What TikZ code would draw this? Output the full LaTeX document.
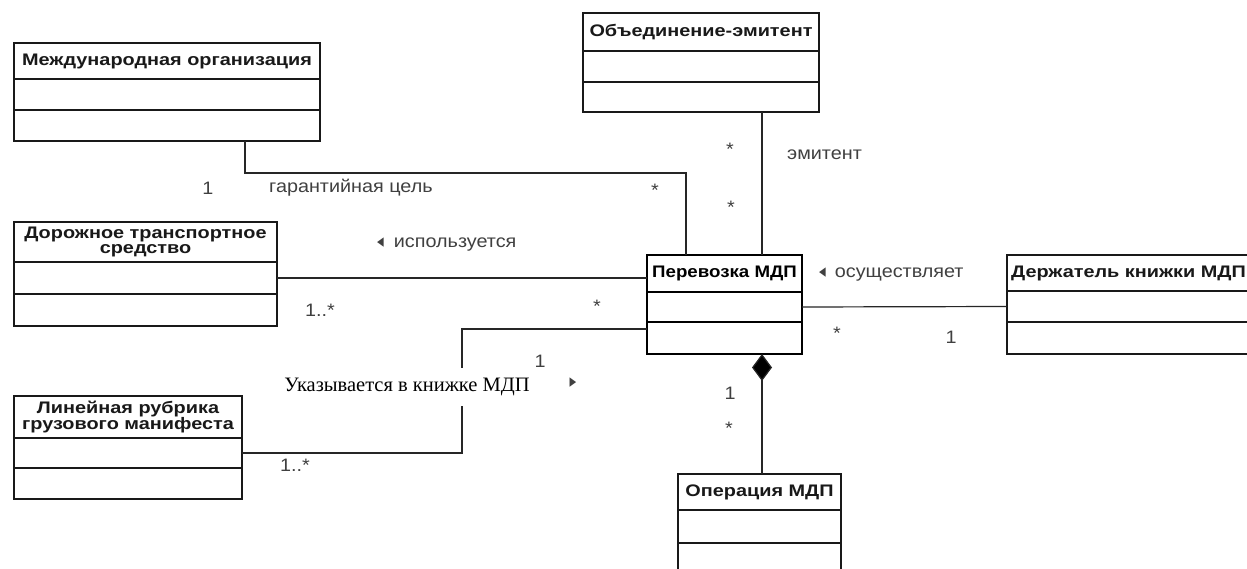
\documentclass[tikz,border=0pt]{standalone}
\usepackage{fontspec}
\setmainfont{Liberation Sans}
\newfontfamily\classfont[FakeStretch=1.19]{Liberation Sans}
\newfontfamily\transportfont[FakeStretch=1.12]{Liberation Sans}
\newfontfamily\labelfont[FakeStretch=1.1]{Liberation Sans}
\newfontfamily\labelserif{Liberation Serif}
\newfontfamily\arrowfont{DejaVu Sans}
\usetikzlibrary{positioning,arrows.meta}
\newcommand{\readleft}{\scalebox{0.7}[1]{\arrowfont\fontsize{19}{19}\selectfont◂}}
\newcommand{\readright}{\scalebox{0.7}[1]{\arrowfont\fontsize{19}{19}\selectfont▸}}

\begin{document}
\begin{tikzpicture}[x=1pt,y=-1pt,
	classhead/.style={draw=black!90,rectangle,outer sep=0pt,inner sep=1pt,align=center,anchor=north west,line width=1.5pt,text=black!90,font=\classfont\bfseries\fontsize{16.7}{15}\selectfont},
	classpart/.style 2 args={draw=black!90,rectangle,outer sep=0pt,inner sep=0pt,line width=1.5pt,minimum width=#1,minimum height=#2},
	assoc/.style={draw=black!85,line width=1.2pt},
	composition/.style={assoc,-{Diamond[length=27pt,width=20pt,fill=black]}},
	role/.style={text=black!75,font=\labelfont\fontsize{18}{20}\selectfont,inner sep=0pt},
	mult/.style={text=black!75,font=\labelfont\fontsize{18}{20}\selectfont,inner sep=0pt}]
	\useasboundingbox[fill=white] (0,0) rectangle (1247,569);

	\node[classhead,minimum width=306,minimum height=36] (intorg) at (14,43) {Международная организация};
	\node[classpart={306}{31},below=0pt of intorg] (intorgattr) {};
	\node[classpart={306}{31},below=0pt of intorgattr] (intorgops) {};

	\node[classhead,minimum width=236,minimum height=38] (issuer) at (583,13) {Объединение-эмитент};
	\node[classpart={236}{31},below=0pt of issuer] (issuerattr) {};
	\node[classpart={236}{30},below=0pt of issuerattr] (issuerops) {};

	\node[classhead,minimum width=263,minimum height=40] (road) at (14,222) {Дорожное транспортное\\средство};
	\node[classpart={263}{32},below=0pt of road] (roadattr) {};
	\node[classpart={263}{32},below=0pt of roadattr] (roadops) {};

	\node[classhead,minimum width=228,minimum height=42] (manifest) at (14,396) {Линейная рубрика\\грузового манифеста};
	\node[classpart={228}{30},below=0pt of manifest] (manifestattr) {};
	\node[classpart={228}{31},below=0pt of manifestattr] (manifestops) {};

	\node[classhead,draw=black,line width=2.2pt,text=black,font=\transportfont\bfseries\fontsize{16.7}{15}\selectfont,minimum width=155,minimum height=37] (transport) at (647,255) {Перевозка МДП};
	\node[classpart={155}{30},draw=black,line width=2.2pt,below=0pt of transport] (transportattr) {};
	\node[classpart={155}{32},draw=black,line width=2.2pt,below=0pt of transportattr] (transportops) {};

	\node[classhead,minimum width=243,minimum height=36] (holder) at (1007,255) {Держатель книжки МДП};
	\node[classpart={243}{31},below=0pt of holder] (holderattr) {};
	\node[classpart={243}{32},below=0pt of holderattr] (holderops) {};

	\node[classhead,minimum width=163,minimum height=36] (operation) at (678,474) {Операция МДП};
	\node[classpart={163}{33},below=0pt of operation] (operationattr) {};
	\node[classpart={163}{40},below=0pt of operationattr] (operationops) {};

	\coordinate (guarantee) at (245,173);
	\coordinate (guaranteeend) at (686,173);
	\coordinate (issuerline) at (762,0);
	\coordinate (manifestbend) at (462,329);
	\coordinate (partline) at (762,0);

	\draw[assoc] (intorgops.south -| guarantee) |- (guaranteeend) -- (transport.north -| guaranteeend);
	\draw[assoc] (issuerops.south -| issuerline) -- (transport.north -| issuerline);
	\draw[assoc] (roadattr.east) -- (transport.west |- roadattr.east);
	\draw[assoc] (manifestattr.east) -| (manifestbend) -- (transport.west |- manifestbend);
	\draw[assoc] (transportattr.east) -- (holderattr.west);
	\draw[composition] (operation.north -| partline) -- (transportops.south -| partline);

	\node[role,anchor=west] (guaranteelabel) at (269,188) {гарантийная цель};
	\node[mult] (guaranteeone) at (208,188) {1};
	\node[mult] (guaranteestar) at (655,190) {*};

	\node[role,anchor=west] (issuerlabel) at (787,155) {эмитент};
	\node[mult] (issuerstar) at (730,149) {*};
	\node[mult] (issuerstartwo) at (731,207) {*};

	\node[role,anchor=west] (roadlabel) at (377,245) {\readleft\hspace{10pt}используется};
	\node[mult] (roadmany) at (320,310) {1..*};
	\node[mult] (roadstar) at (597,306) {*};

	\node[role,fill=white,inner ysep=10pt,inner xsep=2pt,text=black,font=\labelserif\fontsize{20.5}{22}\selectfont] (manifestlabel) at (407,387) {Указывается в книжке МДП};
	\node[role] (manifestarrow) at (573,383) {\readright};
	\node[mult] (manifestone) at (540,361) {1};
	\node[mult] (manifestmany) at (295,465) {1..*};

	\node[role,anchor=west] (holderlabel) at (819,275) {\readleft\hspace{9pt}осуществляет};
	\node[mult] (holderstar) at (837,333) {*};
	\node[mult] (holderone) at (951,337) {1};

	\node[mult] (partone) at (730,393) {1};
	\node[mult] (partstar) at (729,428) {*};
\end{tikzpicture}
\end{document}
